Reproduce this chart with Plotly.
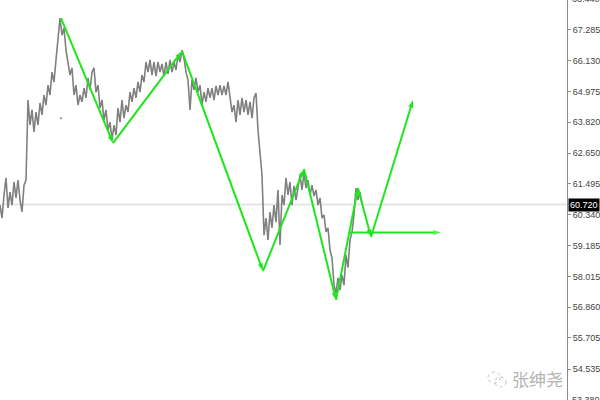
import plotly.graph_objects as go

# ---- price series (bar index, price) ----
price_x = list(range(0, 364, 2))
price_y = [
    60.70, 60.21, 61.08, 61.72, 60.59, 61.19, 60.70, 61.57, 60.97, 61.64,
    60.89, 60.44, 61.45, 61.64, 64.65, 63.71, 64.28, 63.45, 64.20, 63.71,
    64.54, 64.09, 64.84, 64.46, 65.21, 64.84, 65.70, 65.33, 66.16, 66.91,
    67.73, 67.09, 67.36, 66.53, 66.08, 65.59, 65.86, 64.84, 65.21, 64.46,
    64.84, 64.58, 65.10, 64.73, 65.48, 65.03, 65.70, 65.86, 64.95, 65.21,
    64.35, 64.65, 63.90, 64.28, 63.52, 63.82, 63.15, 63.71, 63.33, 64.35,
    63.82, 64.65, 63.97, 64.46, 64.20, 64.95, 64.58, 65.10, 64.73, 65.33,
    64.95, 65.59, 65.33, 66.08, 65.70, 66.16, 65.59, 66.08, 65.55, 66.08,
    65.70, 66.01, 65.55, 66.08, 65.63, 66.16, 65.70, 66.08, 65.78, 66.34,
    66.08, 66.53, 66.23, 65.70, 65.40, 64.28, 65.40, 65.03, 65.48, 64.95,
    65.21, 64.46, 64.95, 64.58, 65.10, 64.73, 65.10, 64.65, 65.18, 64.84,
    65.21, 64.84, 65.18, 64.84, 65.33, 64.65, 64.20, 64.46, 63.82, 64.65,
    64.09, 64.73, 64.20, 64.65, 64.09, 64.58, 63.97, 64.73, 64.91, 63.52,
    62.77, 61.83, 59.57, 60.21, 59.39, 60.44, 59.84, 60.70, 60.06, 61.27,
    59.20, 61.08, 60.70, 61.72, 61.08, 61.57, 60.70, 61.42, 60.89, 61.34,
    61.83, 61.27, 61.94, 61.34, 61.64, 61.08, 61.45, 61.04, 61.27, 60.70,
    60.97, 60.21, 60.33, 59.69, 59.84, 59.01, 58.71, 57.69, 57.39, 57.96,
    57.50, 58.07, 57.69, 58.82, 58.35, 59.39, 59.69, 60.33, 61.34, 60.89,
    61.19, 60.74,
]
stray_x = [61]
stray_y = [63.97]

# ---- zigzag wave projection ----
wave_x = [61, 113, 182, 263, 304, 336, 358, 371, 413]
wave_y = [67.73, 63.03, 66.49, 58.22, 62.06, 57.13, 61.34, 59.50, 64.65]
flat_x = [350, 441]
flat_y = [59.67, 59.67]

current_price = 60.72
current_label = "60.720"

tick_vals = [68.440, 67.285, 66.130, 64.975, 63.820, 62.650, 61.495,
             60.340, 59.185, 58.015, 56.860, 55.705, 54.535, 53.380]
tick_text = ["68.440", "67.285", "66.130", "64.975", "63.820", "62.650", "61.495",
             "60.340", "59.185", "58.015", "56.860", "55.705", "54.535", "53.380"]

GREEN = "#1ee61e"
TICK_FONT = dict(family="Liberation Sans, Arial", size=9, color="#444444")

fig = go.Figure()

# current price line
fig.add_trace(go.Scatter(x=[0, 567], y=[current_price, current_price], mode="lines",
                         line=dict(color="#e6e6e6", width=2), hoverinfo="skip"))

fig.add_trace(go.Scatter(x=price_x, y=price_y, mode="lines",
                         line=dict(color="#808080", width=1.6), hoverinfo="skip"))
fig.add_trace(go.Scatter(x=stray_x, y=stray_y, mode="markers",
                         marker=dict(color="#808080", size=2), hoverinfo="skip"))

fig.add_trace(go.Scatter(x=wave_x, y=wave_y, mode="lines+markers",
                         line=dict(color=GREEN, width=2),
                         marker=dict(symbol="arrow", angleref="previous", size=8, color=GREEN),
                         hoverinfo="skip"))
fig.add_trace(go.Scatter(x=flat_x, y=flat_y, mode="lines+markers",
                         line=dict(color=GREEN, width=2),
                         marker=dict(symbol=["line-ns", "arrow"], angleref="previous",
                                     size=[1, 8], color=GREEN, line=dict(width=0)),
                         hoverinfo="skip"))

fig.update_layout(
    width=600, height=400,
    margin=dict(l=0, r=33, t=0, b=0),
    paper_bgcolor="white", plot_bgcolor="white",
    showlegend=False,
    xaxis=dict(range=[0, 567], visible=False, fixedrange=True),
    yaxis=dict(range=[53.369, 68.413], side="right", showgrid=False, zeroline=False,
               showline=True, linecolor="#8c8c8c", linewidth=1, automargin=False,
               ticks="outside", ticklen=3, tickcolor="#8c8c8c",
               tickvals=tick_vals[1:-1], ticktext=tick_text[1:-1],
               tickfont=TICK_FONT),
    font=dict(family="Liberation Sans, Arial"),
)

# edge tick labels, partly cut by the frame as in the reference
fig.add_annotation(x=1, xref="paper", y=1, yref="paper", text=tick_text[0], showarrow=False,
                   xanchor="left", yanchor="middle", xshift=3, yshift=1, font=TICK_FONT)
fig.add_annotation(x=1, xref="paper", y=tick_vals[-1], yref="y", text=tick_text[-1],
                   showarrow=False, xanchor="left", yanchor="middle", xshift=3, font=TICK_FONT)

fig.add_annotation(x=1, xref="paper", y=current_price, yref="y", text=current_label,
                   showarrow=False, xanchor="left", yanchor="middle", xshift=1,
                   bgcolor="black", font=dict(color="white", size=9, family="Liberation Sans, Arial"),
                   borderpad=1)

# watermark
fig.add_annotation(x=0.997, xref="paper", y=0.055, yref="paper", text="张绅尧",
                   showarrow=False, xanchor="right", yanchor="middle",
                   font=dict(family="Noto Sans CJK SC", size=17, color="#b4b4b4"))
fig.add_shape(type="circle", xref="paper", yref="paper",
              x0=488/567, x1=500/567, y0=1 - 383/400, y1=1 - 372/400,
              line=dict(color="#c0c0c0", width=1, dash="dot"))
fig.add_shape(type="circle", xref="paper", yref="paper",
              x0=495/567, x1=506/567, y0=1 - 387/400, y1=1 - 377/400,
              line=dict(color="#c0c0c0", width=1, dash="dot"))

fig.write_html("out.html", config={"displayModeBar": False},
               post_script="document.body.style.margin='0';document.body.style.overflow='hidden';")
